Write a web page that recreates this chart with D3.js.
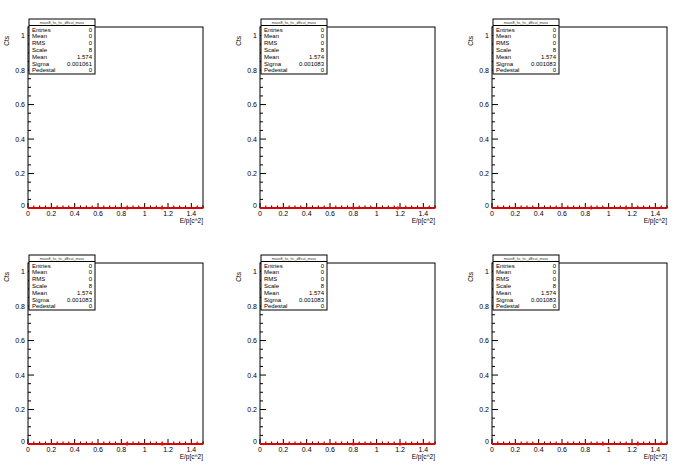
<!DOCTYPE html>
<html><head><meta charset="utf-8">
<script src="https://cdn.jsdelivr.net/npm/d3@7"></script>
<style>body{margin:0;background:#fff}svg{display:block}text{font-family:"Liberation Sans",Arial,sans-serif}</style>
</head><body><svg id="c" width="696" height="472"></svg>
<script>
// ---- data ----
const xTicks = [0, 0.2, 0.4, 0.6, 0.8, 1, 1.2, 1.4];
const yTicks = [0, 0.2, 0.4, 0.6, 0.8, 1];
const xDomain = [0, 1.5];
const yDomain = [0, 1.05];
const binEdges = [0, 0.15, 0.3, 0.45, 0.6, 0.75, 0.9, 1.05, 1.2, 1.35, 1.5];
const counts = [0, 0, 0, 0, 0, 0, 0, 0, 0, 0];
const statLabels = ["Entries", "Mean", "RMS", "Scale", "Mean", "Sigma", "Pedestal"];
const statValuesPad = [
  ["0", "0", "0", "8", "1.574", "0.001061", "0"],
  ["0", "0", "0", "8", "1.574", "0.001083", "0"],
  ["0", "0", "0", "8", "1.574", "0.001083", "0"],
  ["0", "0", "0", "8", "1.574", "0.001083", "0"],
  ["0", "0", "0", "8", "1.574", "0.001083", "0"],
  ["0", "0", "0", "8", "1.574", "0.001083", "0"]
];
const fitMarks = [[0.85, 1.15], [0.8, 1.18], [0.85, 1.15], [0.85, 1.15], [0.8, 1.2], [0.95, 1.25]];
const statTitle = "massE_hc_hc_dEcut_mass";
const xTitle = "E/p[c^2]";
const yTitle = "Cts";

// ---- layout ----
const svg = d3.select("#c");
const padW = 232, padH = 236;
const fL = 28, fR = 203, fT = 27, fB = 208;

for (let p = 0; p < 6; p++) {
  const col = p % 3, row = Math.floor(p / 3);
  const g = svg.append("g").attr("transform", `translate(${col * padW},${row * padH})`);
  const x = d3.scaleLinear().domain(xDomain).range([fL, fR]);
  const y = d3.scaleLinear().domain(yDomain).range([fB, fT]);

  // frame
  g.append("rect").attr("x", fL).attr("y", fT).attr("width", fR - fL).attr("height", fB - fT)
    .attr("fill", "none").attr("stroke", "#000").attr("stroke-width", 1);

  // x ticks
  const xMinor = d3.range(0, 1.5001, 0.05);
  xMinor.forEach(v => {
    const isMajor = Math.abs(v * 5 - Math.round(v * 5)) < 1e-6;
    g.append("line").attr("x1", x(v)).attr("x2", x(v)).attr("y1", fB).attr("y2", fB - (isMajor ? 5 : 2.5))
      .attr("stroke", "#000").attr("stroke-width", 1);
  });
  xTicks.forEach(v => {
    g.append("text").attr("x", x(v)).attr("y", fB + 8).attr("text-anchor", "middle")
      .attr("font-size", 7).text(d3.format("~g")(v));
  });
  // y ticks
  const yMinor = d3.range(0, 1.0501, 0.05);
  yMinor.forEach(v => {
    const isMajor = Math.abs(v * 5 - Math.round(v * 5)) < 1e-6;
    g.append("line").attr("x1", fL).attr("x2", fL + (isMajor ? 6 : 3)).attr("y1", y(v)).attr("y2", y(v))
      .attr("stroke", "#000").attr("stroke-width", 1);
  });
  yTicks.forEach(v => {
    g.append("text").attr("x", fL - 3).attr("y", y(v) + (v === 0 ? 0 : 2.5)).attr("text-anchor", "end")
      .attr("font-size", 7).text(d3.format("~g")(v));
  });

  // histogram (red, at zero) drawn over frame
  const line = d3.line().x(d => x(d[0])).y(d => y(d[1])).curve(d3.curveStepAfter);
  const pts = counts.map((c, i) => [binEdges[i], c]);
  pts.push([binEdges[binEdges.length - 1], counts[counts.length - 1]]);
  g.append("path").attr("d", line(pts)).attr("fill", "none").attr("stroke", "#e00000").attr("stroke-width", 2);
  fitMarks[p].forEach(v => {
    g.append("rect").attr("x", x(v) - 1).attr("y", y(0) - 1.5).attr("width", 2).attr("height", 3).attr("fill", "#ff0000");
  });

  // axis titles
  g.append("text").attr("x", fR).attr("y", fB + 15).attr("text-anchor", "end").attr("font-size", 6.5).text(xTitle);
  g.append("text").attr("transform", `translate(9,${fT + 9}) rotate(-90)`).attr("text-anchor", "end")
    .attr("font-size", 6.5).text(yTitle);

  // stats box
  const bx = 29, by = 19, bw = 66, bh = 55;
  g.append("rect").attr("x", bx).attr("y", by).attr("width", bw).attr("height", bh)
    .attr("fill", "#fff").attr("stroke", "#000").attr("stroke-width", 1);
  g.append("line").attr("x1", bx).attr("x2", bx + bw).attr("y1", by + 6.5).attr("y2", by + 6.5)
    .attr("stroke", "#000").attr("stroke-width", 1);
  g.append("text").attr("x", bx + bw / 2).attr("y", by + 5).attr("text-anchor", "middle")
    .attr("font-size", 3.6).attr("fill", "#333").text(statTitle);
  statLabels.forEach((lab, i) => {
    const ty = by + 12.5 + i * 6.8;
    g.append("text").attr("x", bx + 3).attr("y", ty).attr("font-size", 6).text(lab);
    g.append("text").attr("x", bx + bw - 3).attr("y", ty).attr("text-anchor", "end").attr("font-size", 6)
      .text(statValuesPad[p][i]);
  });
}
</script></body></html>
